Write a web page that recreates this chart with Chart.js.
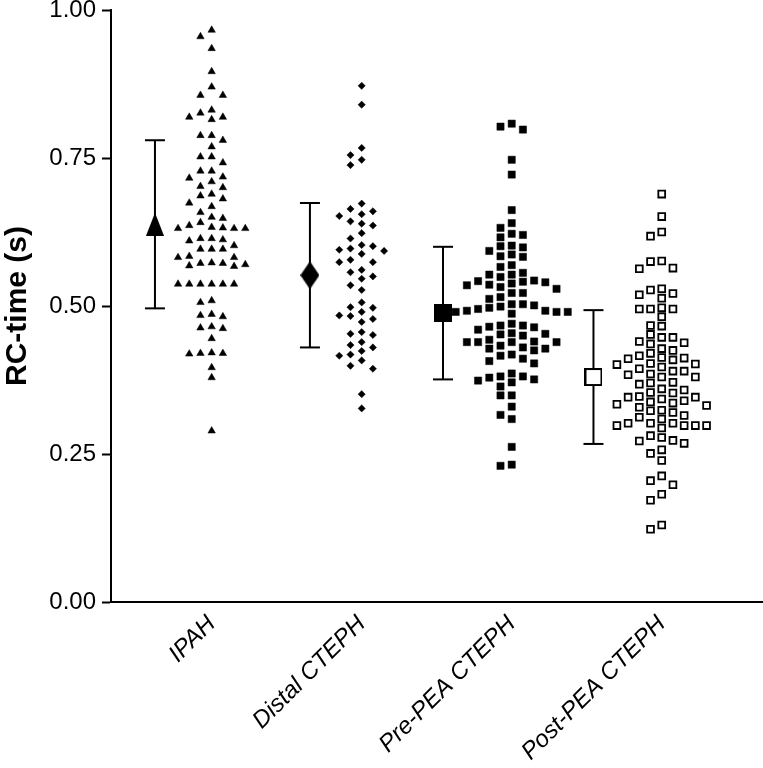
<!DOCTYPE html>
<html>
<head>
<meta charset="utf-8">
<script src="https://cdn.jsdelivr.net/npm/chart.js@4.4.1/dist/chart.umd.min.js"></script>
<style>
  html, body { margin: 0; padding: 0; background: #fff; }
  #wrap { width: 763px; height: 768px; }
</style>
</head>
<body>
<div id="wrap"><canvas id="rcChart"></canvas></div>
<script>
// Categorias do eixo x
const categories = ['IPAH', 'Distal CTEPH', 'Pre-PEA CTEPH', 'Post-PEA CTEPH'];

// Valores individuais (RC-time, s)
const ipahValues = [0.966, 0.955, 0.935, 0.896, 0.870, 0.856, 0.856, 0.831, 0.826, 0.819, 0.815, 0.819,
  0.788, 0.788, 0.780, 0.769, 0.752, 0.752, 0.742, 0.728, 0.728, 0.718, 0.716, 0.710, 0.700, 0.702,
  0.686, 0.689, 0.681, 0.674, 0.668, 0.658, 0.648, 0.650, 0.636, 0.641, 0.631, 0.631, 0.631, 0.632,
  0.633, 0.614, 0.612, 0.610, 0.614, 0.602, 0.596, 0.596, 0.596, 0.582, 0.582, 0.584, 0.572, 0.570,
  0.567, 0.568, 0.572, 0.573, 0.537, 0.537, 0.537, 0.537, 0.537, 0.537, 0.509, 0.506, 0.484, 0.486,
  0.482, 0.462, 0.465, 0.463, 0.445, 0.420, 0.419, 0.420, 0.421, 0.396, 0.379, 0.289];

const distalValues = [0.872, 0.840, 0.767, 0.755, 0.747, 0.738, 0.673, 0.664, 0.660, 0.655, 0.652,
  0.643, 0.639, 0.636, 0.623, 0.614, 0.603, 0.601, 0.597, 0.595, 0.593, 0.588, 0.578, 0.574, 0.574,
  0.561, 0.557, 0.550, 0.546, 0.535, 0.527, 0.506, 0.498, 0.497, 0.490, 0.484, 0.483, 0.478, 0.473,
  0.456, 0.453, 0.451, 0.439, 0.434, 0.430, 0.424, 0.418, 0.416, 0.408, 0.399, 0.394, 0.351, 0.327];

const prePeaValues = [0.808, 0.803, 0.798, 0.747, 0.722, 0.662, 0.640, 0.632, 0.622, 0.620, 0.616,
  0.602, 0.601, 0.599, 0.593, 0.587, 0.584, 0.583, 0.569, 0.566, 0.556, 0.553, 0.553, 0.549, 0.543,
  0.542, 0.541, 0.540, 0.538, 0.536, 0.535, 0.532, 0.529, 0.522, 0.522, 0.515, 0.512, 0.503, 0.503,
  0.501, 0.499, 0.497, 0.495, 0.492, 0.492, 0.490, 0.490, 0.490, 0.487, 0.470, 0.467, 0.467, 0.465,
  0.464, 0.460, 0.454, 0.453, 0.452, 0.450, 0.443, 0.440, 0.439, 0.439, 0.439, 0.439, 0.433, 0.430,
  0.428, 0.428, 0.425, 0.418, 0.416, 0.411, 0.407, 0.403, 0.386, 0.381, 0.381, 0.379, 0.376, 0.374,
  0.371, 0.364, 0.349, 0.349, 0.330, 0.316, 0.309, 0.262, 0.232, 0.230];

const postPeaValues = [0.689, 0.651, 0.625, 0.618, 0.576, 0.575, 0.564, 0.563, 0.529, 0.527, 0.521,
  0.519, 0.513, 0.497, 0.495, 0.495, 0.495, 0.482, 0.467, 0.466, 0.452, 0.447, 0.447, 0.440, 0.438,
  0.436, 0.428, 0.425, 0.420, 0.416, 0.413, 0.412, 0.411, 0.409, 0.403, 0.402, 0.401, 0.397, 0.394,
  0.390, 0.390, 0.385, 0.384, 0.380, 0.380, 0.371, 0.370, 0.368, 0.360, 0.358, 0.354, 0.353, 0.347,
  0.346, 0.346, 0.343, 0.340, 0.338, 0.336, 0.334, 0.332, 0.329, 0.324, 0.323, 0.320, 0.315, 0.312,
  0.309, 0.302, 0.302, 0.302, 0.298, 0.298, 0.298, 0.298, 0.294, 0.281, 0.278, 0.273, 0.272, 0.268,
  0.257, 0.251, 0.239, 0.213, 0.205, 0.198, 0.182, 0.172, 0.130, 0.123];

// Média e desvio padrão de cada grupo
const groupMeans = [0.638, 0.552, 0.488, 0.380];
const groupSDs = [0.142, 0.122, 0.112, 0.113];

// Marcas do eixo y
const yTicks = [0.00, 0.25, 0.50, 0.75, 1.00];

// Layout (não são dados)
const SWARM_STEP = 0.0747;   // distância entre colunas do enxame (unidades de x)
const SWARM_GAP = 0.015;     // distância mínima vertical na mesma coluna
const MEAN_SHIFT = [-0.378, -0.345, -0.458, -0.455]; // média+DP à esquerda dos pontos
const FONT = "'Liberation Sans', Arial, Helvetica, sans-serif";

// Distribui os pontos em colunas (tipo beeswarm)
function montarEnxame(valores, centro) {
  const colocados = [];
  return valores.slice().sort((a, b) => b - a).map(v => {
    for (let k = 0; ; k++) {
      const col = k === 0 ? 0 : (k % 2 ? -(k + 1) / 2 : k / 2);
      const bate = colocados.some(p => p.col === col && Math.abs(p.y - v) < SWARM_GAP);
      if (!bate) {
        colocados.push({ col, y: v });
        return { x: centro + col * SWARM_STEP, y: v };
      }
    }
  });
}

// Marcadores grandes da média
function criarMarcador(w, h, desenhar) {
  const c = document.createElement('canvas');
  c.width = w; c.height = h;
  const ctx = c.getContext('2d');
  desenhar(ctx, w, h);
  return c;
}

const marcadoresMedia = [
  criarMarcador(18, 23, (ctx, w, h) => {
    ctx.fillStyle = '#000';
    ctx.beginPath(); ctx.moveTo(w / 2, 0); ctx.lineTo(w, h); ctx.lineTo(0, h); ctx.closePath(); ctx.fill();
  }),
  criarMarcador(19, 28, (ctx, w, h) => {
    ctx.fillStyle = '#000';
    ctx.beginPath(); ctx.moveTo(w / 2, 0); ctx.lineTo(w, h / 2); ctx.lineTo(w / 2, h); ctx.lineTo(0, h / 2); ctx.closePath(); ctx.fill();
  }),
  criarMarcador(18, 18, (ctx, w, h) => {
    ctx.fillStyle = '#000';
    ctx.fillRect(0, 0, w, h);
  }),
  criarMarcador(18, 18, (ctx, w, h) => {
    ctx.fillStyle = '#fff';
    ctx.fillRect(0, 0, w, h);
    ctx.strokeStyle = '#000';
    ctx.lineWidth = 2;
    ctx.strokeRect(1, 1, w - 2, h - 2);
  })
];

const gruposValores = [ipahValues, distalValues, prePeaValues, postPeaValues];
const estilosPontos = [
  { pointStyle: 'triangle', pointRadius: 4.3, pointBackgroundColor: '#000', pointBorderColor: '#000', pointBorderWidth: 0.5 },
  { pointStyle: 'rectRot', pointRadius: 3.6, pointBackgroundColor: '#000', pointBorderColor: '#000', pointBorderWidth: 0.5 },
  { pointStyle: 'rect', pointRadius: 5.1, pointBackgroundColor: '#000', pointBorderColor: '#000', pointBorderWidth: 0.5 },
  { pointStyle: 'rect', pointRadius: 4.8, pointBackgroundColor: '#fff', pointBorderColor: '#000', pointBorderWidth: 1.8 }
];

const datasets = [];

// Médias (desenhadas por cima)
groupMeans.forEach((m, i) => {
  datasets.push({
    label: categories[i] + ' média',
    data: [{ x: i + 1 + MEAN_SHIFT[i], y: m }],
    pointStyle: marcadoresMedia[i],
    pointRadius: 12,
    order: 0
  });
});

// Barras de desvio padrão
groupMeans.forEach((m, i) => {
  const x = i + 1 + MEAN_SHIFT[i];
  datasets.push({
    label: categories[i] + ' DP',
    data: [{ x, y: m - groupSDs[i] }, { x, y: m + groupSDs[i] }],
    showLine: true,
    borderColor: '#000',
    borderWidth: 2,
    pointStyle: 'line',
    pointRadius: 10,
    pointBorderColor: '#000',
    pointBorderWidth: 2,
    order: 1
  });
});

// Pontos individuais
gruposValores.forEach((vals, i) => {
  datasets.push(Object.assign({
    label: categories[i],
    data: montarEnxame(vals, i + 1),
    order: 2
  }, estilosPontos[i]));
});

new Chart(document.getElementById('rcChart'), {
  type: 'scatter',
  data: { datasets },
  options: {
    responsive: true,
    maintainAspectRatio: false,
    animation: false,
    devicePixelRatio: 1,
    layout: { autoPadding: false, padding: { top: 10, right: 0, left: 0, bottom: 0 } },
    plugins: {
      legend: { display: false },
      tooltip: { enabled: false }
    },
    scales: {
      x: {
        type: 'linear',
        min: 0.329,
        max: 4.675,
        afterBuildTicks: s => { s.ticks = categories.map((c, i) => ({ value: i + 1 })); },
        afterFit: s => { s.height = 166; s.paddingLeft = 0; s.paddingRight = 0; },
        grid: { drawOnChartArea: false, drawTicks: false },
        border: { display: true, color: '#000', width: 2 },
        ticks: {
          autoSkip: false,
          minRotation: 45,
          maxRotation: 45,
          padding: 8,
          color: '#000',
          font: { family: FONT, size: 24, style: 'italic' },
          callback: v => categories[Math.round(v) - 1]
        }
      },
      y: {
        min: 0,
        max: 1,
        afterBuildTicks: s => { s.ticks = yTicks.map(v => ({ value: v })); },
        afterFit: s => { s.width = 111; s.paddingTop = 0; s.paddingBottom = 0; },
        grid: { drawOnChartArea: false, drawTicks: true, tickLength: 9, tickWidth: 2, tickColor: '#000' },
        border: { display: true, color: '#000', width: 2 },
        ticks: {
          padding: 6,
          color: '#000',
          font: { family: FONT, size: 24 },
          callback: v => v.toFixed(2)
        },
        title: {
          display: true,
          text: 'RC-time (s)',
          color: '#000',
          padding: 0,
          font: { family: FONT, size: 30, weight: 'bold' }
        }
      }
    }
  }
});
</script>
</body>
</html>
